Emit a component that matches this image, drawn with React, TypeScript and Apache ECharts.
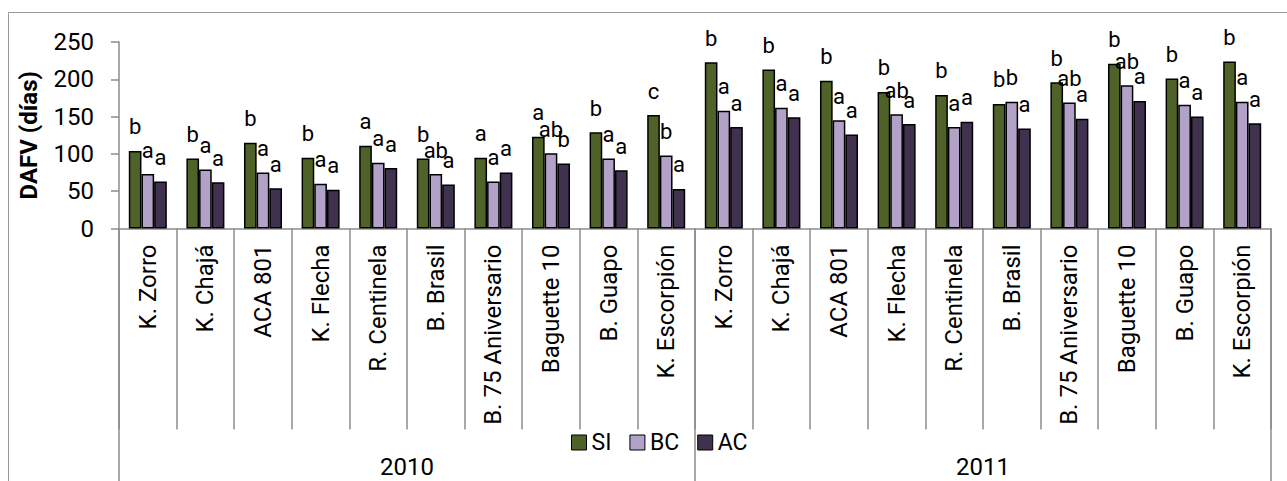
import React, { useEffect, useRef } from "react";
import * as echarts from "echarts";

const years = ["2010", "2011"];
const cultivars = [
  "K. Zorro",
  "K. Chajá",
  "ACA 801",
  "K. Flecha",
  "R. Centinela",
  "B. Brasil",
  "B. 75 Aniversario",
  "Baguette 10",
  "B. Guapo",
  "K. Escorpión",
];
const seriesNames = ["SI", "BC", "AC"];
const siValues = [104, 94, 115, 95, 111, 94, 95, 123, 129, 152, 223, 213, 198, 183, 179, 167, 196, 221, 201, 224];
const bcValues = [73, 79, 75, 60, 88, 73, 63, 101, 94, 98, 158, 162, 145, 153, 136, 170, 169, 192, 166, 170];
const acValues = [63, 62, 54, 52, 81, 59, 75, 87, 78, 53, 136, 149, 126, 140, 143, 134, 147, 171, 150, 141];
const siLetters = ["b", "b", "b", "b", "a", "b", "a", "a", "b", "c", "b", "b", "b", "b", "b", "b", "b", "b", "b", "b"];
const bcLetters = ["a", "a", "a", "a", "a", "ab", "a", "ab", "a", "b", "a", "a", "a", "ab", "a", "b", "ab", "ab", "a", "a"];
const acLetters = ["a", "a", "a", "a", "a", "a", "a", "b", "a", "a", "a", "a", "a", "a", "a", "a", "a", "a", "a", "a"];
const yTicks = [0, 50, 100, 150, 200, 250];

const colors = ["#4F6228", "#B3A2C7", "#403151"];
const FONT = "Roboto, 'Noto Sans', sans-serif";
const AXIS_GRAY = "#8c8c8c";

export default function App() {
  const ref = useRef<HTMLDivElement>(null);

  useEffect(() => {
    document.body.style.margin = "0";
    if (!ref.current) return;
    const chart = echarts.init(ref.current, undefined, { renderer: "svg" });

    const catKeys: string[] = [];
    years.forEach((y) => cultivars.forEach((c) => catKeys.push(y + "|" + c)));

    const allValues = [siValues, bcValues, acValues];
    const allLetters = [siLetters, bcLetters, acLetters];

    const series = seriesNames.map((name, i) => ({
      name,
      type: "bar",
      xAxisIndex: 0,
      yAxisIndex: 0,
      data: allValues[i],
      barGap: "0%",
      barCategoryGap: "34%",
      itemStyle: { color: colors[i], borderColor: "#000", borderWidth: 1.5 },
      label: {
        show: true,
        position: "top",
        distance: 13,
        fontFamily: FONT,
        fontSize: 22,
        color: "#000",
        formatter: (p: any) => allLetters[i][p.dataIndex],
      },
    }));

    chart.setOption({
      animation: false,
      backgroundColor: "#fff",
      graphic: [
        {
          type: "rect",
          shape: { x: 8.5, y: 12.5, width: 1300, height: 500 },
          style: { fill: "none", stroke: "#9a9a9a", lineWidth: 1 },
          silent: true,
          z: -1,
        },
      ],
      legend: {
        data: seriesNames,
        left: 571,
        top: 431,
        padding: 0,
        itemWidth: 15,
        itemHeight: 15,
        itemGap: 18,
        icon: "rect",
        itemStyle: { borderColor: "#000", borderWidth: 1 },
        textStyle: { fontFamily: FONT, fontSize: 23, color: "#000" },
      },
      grid: { left: 119, width: 1152, top: 42, height: 186.5, containLabel: false },
      yAxis: {
        type: "value",
        min: yTicks[0],
        max: yTicks[yTicks.length - 1],
        interval: 50,
        name: "DAFV (días)",
        nameLocation: "middle",
        nameRotate: 90,
        nameGap: 78,
        nameTextStyle: { fontFamily: FONT, fontSize: 24, fontWeight: "bold", color: "#000" },
        axisLine: { show: true, lineStyle: { color: AXIS_GRAY, width: 1.5 } },
        axisTick: { show: true, length: 8, lineStyle: { color: AXIS_GRAY, width: 1.5 } },
        splitLine: { show: false },
        axisLabel: { margin: 25, fontFamily: FONT, fontSize: 24, color: "#000" },
      },
      xAxis: [
        {
          type: "category",
          data: catKeys,
          position: "bottom",
          axisLine: { show: true, lineStyle: { color: AXIS_GRAY, width: 1.5 } },
          axisTick: { show: true, interval: 0, length: 201, lineStyle: { color: AXIS_GRAY, width: 1.5 } },
          axisLabel: {
            interval: 0,
            rotate: 90,
            margin: 16,
            fontFamily: FONT,
            fontSize: 24,
            color: "#000",
            formatter: (v: string) => v.split("|")[1],
          },
          splitLine: { show: false },
        },
        {
          type: "category",
          data: years,
          position: "bottom",
          axisLine: { show: false },
          axisTick: { show: true, interval: 0, length: 260, lineStyle: { color: AXIS_GRAY, width: 1.5 } },
          axisLabel: { interval: 0, margin: 226, fontFamily: FONT, fontSize: 24, color: "#000" },
          splitLine: { show: false },
        },
      ],
      series,
    });

    return () => chart.dispose();
  }, []);

  return <div ref={ref} style={{ width: 1287, height: 481 }} />;
}
